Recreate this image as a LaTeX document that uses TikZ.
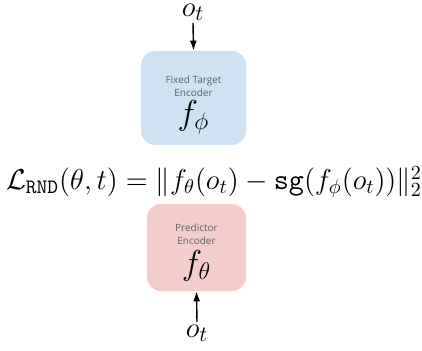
\documentclass[tikz,border=0pt]{standalone}
\usepackage{fontspec}
\usepackage{amsmath}
\usetikzlibrary{arrows.meta}
\newfontfamily\labelfont{Open Sans}
\definecolor{boxblue}{HTML}{CFE2F3}
\definecolor{boxpink}{HTML}{F4CCCC}
\definecolor{labelgray}{HTML}{5F6368}
\begin{document}
\begin{tikzpicture}[x=0.5pt,y=-0.5pt,
  encbox/.style={draw=none,rounded corners=7pt,inner sep=0pt},
  small/.style={font=\labelfont\fontsize{5}{6.3}\selectfont,text=labelgray,align=center},
  bigmath/.style={font=\fontsize{17}{19}\selectfont},
  obs/.style={font=\fontsize{15}{17}\selectfont,inner sep=1pt},
  arr/.style={-{Latex[length=5pt,width=3.5pt]},line width=0.7pt}]
\useasboundingbox (0,0) rectangle (422,351);
\fill[boxblue,rounded corners=7pt] (141,51) rectangle (246,145);
\node[encbox,minimum width=52.5pt,minimum height=47pt] (tgt) at (193.5,98) {};
\node[small] (tgtlabel) at (193.5,86) {Fixed Target\\Encoder};
\node[bigmath] (fphi) at (193.5,117) {$f_\phi$};
\fill[boxpink,rounded corners=7pt] (147,204) rectangle (246,291);
\node[encbox,minimum width=49.5pt,minimum height=43.5pt] (pred) at (196.5,247.5) {};
\node[small] (predlabel) at (196.5,234) {Predictor\\Encoder};
\node[bigmath] (ftheta) at (196.5,266) {$f_\theta$};
\node[obs] (otop) at (193,12) {$o_t$};
\node[obs] (obot) at (197,333) {$o_t$};
\draw[arr] (otop.south) -- (tgt.north);
\draw[arr] (obot.north) -- (pred.south);
\node[font=\fontsize{14.6}{17}\selectfont] (loss) at (214,182) {$\mathcal{L}_{\texttt{RND}}(\theta,t)=\|f_\theta(o_t)-\texttt{sg}(f_\phi(o_t))\|_2^2$};
\end{tikzpicture}
\end{document}
